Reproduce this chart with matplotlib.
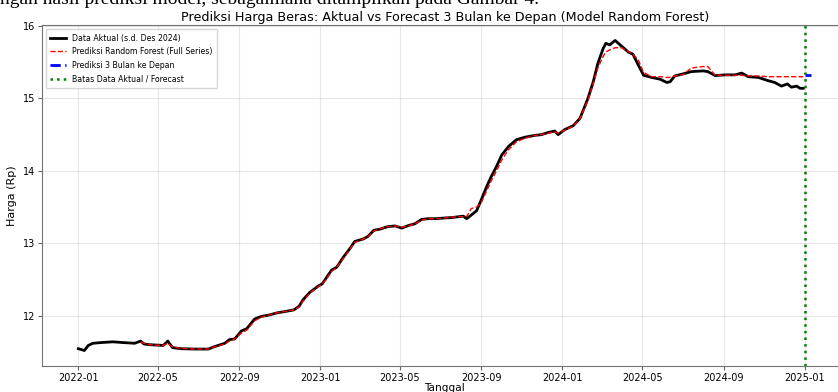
import matplotlib
matplotlib.use("Agg")
import matplotlib.pyplot as plt
import matplotlib.dates as mdates
import pandas as pd

actual_dates = [
    "2022-01-01", "2022-01-10", "2022-01-16", "2022-01-23", "2022-02-05", "2022-02-22",
    "2022-03-09", "2022-03-27", "2022-04-05", "2022-04-10", "2022-04-19", "2022-05-09",
    "2022-05-16", "2022-05-23", "2022-06-05", "2022-06-26", "2022-07-16", "2022-07-26",
    "2022-08-10", "2022-08-17", "2022-08-25", "2022-09-04", "2022-09-12", "2022-09-24",
    "2022-10-04", "2022-10-16", "2022-10-28", "2022-11-10", "2022-11-22", "2022-11-30",
    "2022-12-06", "2022-12-16", "2022-12-29", "2023-01-04", "2023-01-10", "2023-01-18",
    "2023-01-26", "2023-02-05", "2023-02-15", "2023-02-22", "2023-03-07", "2023-03-14",
    "2023-03-23", "2023-04-01", "2023-04-13", "2023-04-24", "2023-05-04", "2023-05-14",
    "2023-05-24", "2023-06-03", "2023-06-13", "2023-06-25", "2023-07-08", "2023-07-18",
    "2023-08-05", "2023-08-10", "2023-08-17", "2023-08-25", "2023-09-01", "2023-09-09",
    "2023-09-16", "2023-09-24", "2023-10-02", "2023-10-12", "2023-10-24", "2023-11-06",
    "2023-11-21", "2023-12-01", "2023-12-11", "2023-12-21", "2023-12-26", "2024-01-05",
    "2024-01-18", "2024-01-28", "2024-02-09", "2024-02-17", "2024-02-24", "2024-03-03",
    "2024-03-07", "2024-03-13", "2024-03-21", "2024-03-31", "2024-04-10", "2024-04-17",
    "2024-04-25", "2024-05-03", "2024-05-15", "2024-05-28", "2024-06-07", "2024-06-12",
    "2024-06-19", "2024-07-02", "2024-07-14", "2024-08-01", "2024-08-08", "2024-08-19",
    "2024-09-03", "2024-09-18", "2024-09-28", "2024-10-08", "2024-10-23", "2024-11-07",
    "2024-11-17", "2024-11-27", "2024-12-06", "2024-12-12", "2024-12-20", "2024-12-25",
    "2024-12-30",
]
actual_values = [
    11.545, 11.52, 11.59, 11.62, 11.63, 11.64, 11.63, 11.62, 11.65, 11.61, 11.60, 11.59,
    11.65, 11.56, 11.545, 11.54, 11.54, 11.575, 11.62, 11.67, 11.68, 11.79, 11.82, 11.955,
    11.99, 12.01, 12.04, 12.06, 12.08, 12.13, 12.22, 12.32, 12.41, 12.44, 12.52, 12.63,
    12.67, 12.81, 12.93, 13.025, 13.06, 13.095, 13.18, 13.195, 13.23, 13.24, 13.21, 13.245,
    13.27, 13.33, 13.34, 13.34, 13.35, 13.355, 13.375, 13.34, 13.39, 13.45, 13.60, 13.78,
    13.92, 14.06, 14.22, 14.335, 14.43, 14.465, 14.49, 14.50, 14.53, 14.55, 14.50, 14.57,
    14.625, 14.725, 15.00, 15.23, 15.485, 15.69, 15.76, 15.74, 15.80, 15.72, 15.64, 15.61,
    15.46, 15.32, 15.29, 15.265, 15.22, 15.23, 15.31, 15.34, 15.37, 15.38, 15.37, 15.315,
    15.325, 15.325, 15.35, 15.30, 15.29, 15.245, 15.22, 15.17, 15.20, 15.155, 15.17, 15.14,
    15.14,
]

# Random Forest in-sample prediction (starts after the lag window)
rf_dates = actual_dates[8:]
rf_values = [
    11.64, 11.62, 11.60, 11.59, 11.62, 11.57, 11.55, 11.54, 11.54, 11.57, 11.61, 11.65,
    11.68, 11.76, 11.80, 11.93, 11.98, 12.01, 12.04, 12.06, 12.08, 12.12, 12.20, 12.31,
    12.40, 12.44, 12.50, 12.61, 12.67, 12.79, 12.92, 13.01, 13.06, 13.09, 13.17, 13.20,
    13.23, 13.24, 13.22, 13.24, 13.27, 13.32, 13.34, 13.34, 13.35, 13.36, 13.37, 13.37,
    13.48, 13.50, 13.56, 13.72, 13.86, 14.00, 14.15, 14.29, 14.40, 14.45, 14.49, 14.50,
    14.52, 14.54, 14.52, 14.56, 14.62, 14.72, 14.97, 15.20, 15.42, 15.58, 15.64, 15.67,
    15.70, 15.70, 15.65, 15.61, 15.53, 15.36, 15.30, 15.30, 15.29, 15.29, 15.31, 15.33,
    15.42, 15.44, 15.44, 15.32, 15.32, 15.32, 15.32, 15.31, 15.31, 15.30, 15.30, 15.30,
    15.30, 15.30, 15.30, 15.30, 15.30,
]

# 3-step ahead forecast
fc_dates = ["2025-01-01", "2025-01-06", "2025-01-11"]
fc_values = [15.33, 15.33, 15.33]

cutoff_date = "2025-01-01"

plt.rcParams["font.family"] = "DejaVu Sans"

fig = plt.figure(figsize=(8.38, 3.92), dpi=100)
ax = fig.add_axes([0.0498, 0.0663, 0.962, 0.870])

ax.plot(pd.to_datetime(actual_dates), actual_values, color="black", lw=2.0,
        label="Data Aktual (s.d. Des 2024)")
ax.plot(pd.to_datetime(rf_dates), rf_values, color="red", lw=1.0, ls="--",
        label="Prediksi Random Forest (Full Series)")
ax.plot(pd.to_datetime(fc_dates), fc_values, color="blue", lw=2.0, ls="--",
        label="Prediksi 3 Bulan ke Depan")
ax.axvline(pd.Timestamp(cutoff_date), color="green", lw=1.8, ls=":",
           label="Batas Data Aktual / Forecast")

ax.xaxis.set_major_locator(mdates.MonthLocator(bymonth=[1, 5, 9]))
ax.xaxis.set_major_formatter(mdates.DateFormatter("%Y-%m"))
ax.set_yticks([12, 13, 14, 15, 16])
ax.tick_params(labelsize=7, color="0.4", length=3, pad=1.8)
ax.grid(True, alpha=0.3)
for sp in ax.spines.values():
    sp.set_color("0.45")

ax.set_title("Prediksi Harga Beras: Aktual vs Forecast 3 Bulan ke Depan (Model Random Forest)",
             fontsize=9.2, pad=3)
ax.set_xlabel("Tanggal", fontsize=7.6, labelpad=0.5)
ax.set_ylabel("Harga (Rp)", fontsize=8, labelpad=4)
ax.legend(loc="upper left", fontsize=5.6, frameon=True, handlelength=2.0,
          borderpad=0.6, labelspacing=0.6)

# clipped line of the surrounding document text
fig.text(0.0, 1 - 4.0 / 392, "ngan hasil prediksi model, sebagaimana ditampilkan pada Gambar 4.",
         fontsize=14, family="Liberation Serif", va="baseline", ha="left")

fig.savefig("out.png", dpi=100)
